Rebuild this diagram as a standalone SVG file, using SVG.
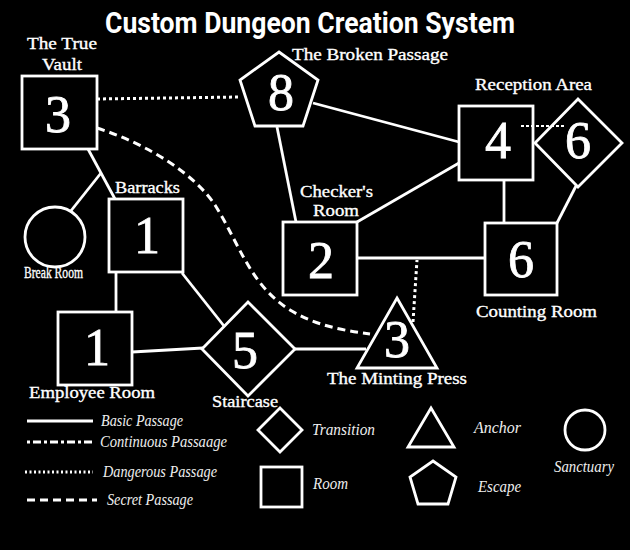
<svg xmlns="http://www.w3.org/2000/svg" width="630" height="550" viewBox="0 0 630 550">
<style>
.s{fill:none;stroke:#fff;stroke-width:2.8}
.n{fill:#000;stroke:#fff;stroke-width:2.8}
.num{font-family:"Liberation Serif",serif;font-size:52px;fill:#fff;stroke:#fff;stroke-width:0.8;text-anchor:middle}
.lb{font-family:"Liberation Serif",serif;font-size:17px;fill:#fff;stroke:#fff;stroke-width:0.35}
.lg{font-family:"Liberation Serif",serif;font-style:italic;font-size:17px;fill:#eee}
.basic{stroke:#fff;stroke-width:2.8;fill:none}
.dot{stroke:#fff;stroke-width:3;fill:none;stroke-dasharray:3 3}
.dash{stroke:#fff;stroke-width:3;fill:none;stroke-dasharray:8 5}
.cont{stroke:#fff;stroke-width:3;fill:none;stroke-dasharray:3 3 8 3}
</style>
<rect width="630" height="550" fill="#000"/>
<text x="310" y="33" font-family="Roboto,'Liberation Sans',sans-serif" font-weight="700" font-size="29" fill="#fff" text-anchor="middle" textLength="410" lengthAdjust="spacingAndGlyphs">Custom Dungeon Creation System</text>

<g id="vault">
<rect class="n" x="22" y="76" width="75" height="73"/>
<text class="num" x="58" y="132">3</text>
<text class="lb" x="62" y="49" text-anchor="middle" textLength="70" lengthAdjust="spacingAndGlyphs">The True</text>
<text class="lb" x="62" y="70" text-anchor="middle" textLength="40" lengthAdjust="spacingAndGlyphs">Vault</text>
</g>

<g id="broken-passage">
<polygon class="n" points="279,52 318,80 303,126 255,126 240,80"/>
<text class="num" x="281" y="110">8</text>
<text class="lb" x="292" y="60" textLength="156" lengthAdjust="spacingAndGlyphs">The Broken Passage</text>
</g>

<g id="break-room">
<circle class="n" cx="55" cy="237" r="30"/>
<text class="lb" x="24" y="278" font-size="10" textLength="59" lengthAdjust="spacingAndGlyphs">Break Room</text>
</g>

<g id="barracks">
<rect class="n" x="109" y="199" width="74" height="73"/>
<text class="num" x="147" y="253">1</text>
<text class="lb" x="115" y="193" textLength="65" lengthAdjust="spacingAndGlyphs">Barracks</text>
</g>

<g id="employee-room">
<rect class="n" x="58" y="312" width="74" height="73"/>
<text class="num" x="97" y="365">1</text>
<text class="lb" x="29" y="398" textLength="126" lengthAdjust="spacingAndGlyphs">Employee Room</text>
</g>

<g id="staircase">
<polygon class="n" points="248,302 295,349 248,396 202,349"/>
<text class="num" x="245" y="368">5</text>
<text class="lb" x="212" y="407" textLength="66" lengthAdjust="spacingAndGlyphs">Staircase</text>
</g>

<g id="minting-press">
<polygon class="n" points="397,298 437,368 357,368"/>
<text class="num" x="397" y="357">3</text>
<text class="lb" x="327" y="384" textLength="140" lengthAdjust="spacingAndGlyphs">The Minting Press</text>
</g>

<g id="checkers-room">
<rect class="n" x="283" y="222" width="74" height="73"/>
<text class="num" x="321" y="278">2</text>
<text class="lb" x="300" y="197" textLength="73" lengthAdjust="spacingAndGlyphs">Checker's</text>
<text class="lb" x="313" y="216" textLength="46" lengthAdjust="spacingAndGlyphs">Room</text>
</g>

<g id="reception-area">
<rect class="n" x="459" y="106" width="74" height="74"/>
<text class="num" x="498" y="158">4</text>
<text class="lb" x="475" y="90" textLength="117" lengthAdjust="spacingAndGlyphs">Reception Area</text>
</g>

<g id="reception-transition">
<polygon class="n" points="578,99 622,143 578,187 535,143"/>
<text class="num" x="578" y="158">6</text>
</g>

<g id="counting-room">
<rect class="n" x="485" y="223" width="72" height="72"/>
<text class="num" x="521" y="277">6</text>
<text class="lb" x="476" y="317" textLength="121" lengthAdjust="spacingAndGlyphs">Counting Room</text>
</g>

<g id="connectors">
<line class="dot" x1="97" y1="99" x2="240" y2="97"/>
<path class="dash" d="M97,128 C150,145 195,175 215,205 C240,245 250,285 290,310 C315,325 340,330 370,334"/>
<line class="basic" x1="88" y1="149" x2="115" y2="199"/>
<line class="basic" x1="101" y1="173" x2="70" y2="212"/>
<line class="basic" x1="116" y1="272" x2="116" y2="312"/>
<line class="basic" x1="132" y1="352" x2="203" y2="348"/>
<line class="basic" x1="182" y1="273" x2="224" y2="326"/>
<line class="basic" x1="295" y1="349" x2="366" y2="349"/>
<line class="dot" x1="413" y1="322" x2="417" y2="260"/>
<line class="basic" x1="277" y1="127" x2="296" y2="222"/>
<line class="basic" x1="313" y1="103" x2="459" y2="142"/>
<line class="basic" x1="357" y1="222" x2="459" y2="163"/>
<line class="basic" x1="357" y1="258" x2="485" y2="258"/>
<line class="basic" x1="504" y1="180" x2="504" y2="223"/>
<line class="basic" x1="576" y1="186" x2="557" y2="223"/>
<line stroke="#fff" stroke-width="2" stroke-dasharray="3 2" x1="521" y1="126" x2="564" y2="126"/>
</g>

<g id="legend">
<line class="basic" x1="27" y1="421" x2="93" y2="421"/>
<text class="lg" x="101" y="426" textLength="82" lengthAdjust="spacingAndGlyphs">Basic Passage</text>
<line class="cont" x1="27" y1="442" x2="93" y2="442"/>
<text class="lg" x="100" y="447" textLength="127" lengthAdjust="spacingAndGlyphs">Continuous Passaage</text>
<line stroke="#fff" stroke-width="3" stroke-dasharray="2 2.5" x1="25" y1="472" x2="93" y2="472"/>
<text class="lg" x="103" y="477" textLength="114" lengthAdjust="spacingAndGlyphs">Dangerous Passage</text>
<line class="dash" x1="27" y1="500" x2="97" y2="500"/>
<text class="lg" x="107" y="505" textLength="86" lengthAdjust="spacingAndGlyphs">Secret Passage</text>

<polygon class="s" points="280,408 302,430 280,452 258,430"/>
<text class="lg" x="312" y="435" textLength="63" lengthAdjust="spacingAndGlyphs">Transition</text>
<rect class="s" x="261" y="467" width="41" height="40"/>
<text class="lg" x="313" y="489" textLength="35" lengthAdjust="spacingAndGlyphs">Room</text>
<polygon class="s" points="431,408 454,447 408,447"/>
<text class="lg" x="474" y="433" textLength="47" lengthAdjust="spacingAndGlyphs">Anchor</text>
<polygon class="s" points="433,461 456,477 448,504 418,504 410,477"/>
<text class="lg" x="478" y="492" textLength="43" lengthAdjust="spacingAndGlyphs">Escape</text>
<circle class="s" cx="585" cy="430" r="20"/>
<text class="lg" x="554" y="472" textLength="60" lengthAdjust="spacingAndGlyphs">Sanctuary</text>
</g>
</svg>
